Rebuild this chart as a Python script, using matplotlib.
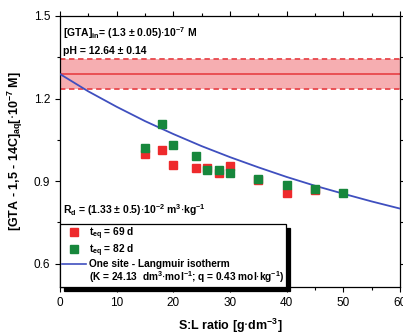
import matplotlib
matplotlib.use("Agg")
import matplotlib.pyplot as plt
from matplotlib.lines import Line2D
from matplotlib.ticker import MultipleLocator

plt.rcParams['font.family'] = ['Liberation Sans', 'DejaVu Sans']

# ---- data ----
red_x = [15, 18, 20, 24, 26, 28, 30, 35, 40, 45]
red_y = [0.997, 1.013, 0.958, 0.948, 0.947, 0.931, 0.956, 0.904, 0.856, 0.866]
green_x = [15, 18, 20, 24, 26, 28, 30, 35, 40, 45, 50]
green_y = [1.022, 1.106, 1.031, 0.992, 0.941, 0.941, 0.931, 0.909, 0.884, 0.873, 0.857]
fit_x = [0, 5, 10, 15, 20, 25, 30, 35, 40, 45, 50, 55, 60]
fit_y = [1.289, 1.226, 1.170, 1.118, 1.071, 1.027, 0.987, 0.950, 0.915, 0.883, 0.854, 0.826, 0.800]
gta_in = 1.289
gta_lo = 1.235
gta_hi = 1.342
x_ticks = [0, 10, 20, 30, 40, 50, 60]
y_ticks = [0.6, 0.9, 1.2, 1.5]

RED = '#ee2a2c'
GREEN = '#17873c'
BLUE = '#3f4fbf'

fig = plt.figure(figsize=(4.03, 3.36), dpi=100)
ax = fig.add_axes([60 / 403, 49 / 336, 340 / 403, 271 / 336])

# band of initial concentration
ax.axhspan(gta_lo, gta_hi, color='#f6aeb1', lw=0, zorder=1)
ax.axhline(gta_in, color='#e8474c', lw=1.3, zorder=2)
for yb in (gta_lo, gta_hi):
    ax.axhline(yb, color='#e8474c', lw=1.3, ls=(0, (3, 2)), zorder=2)

ax.plot(fit_x, fit_y, color=BLUE, lw=1.3, zorder=3)
ax.plot(red_x, red_y, ls='none', marker='s', ms=6.0, color=RED, mec=RED, zorder=4)
ax.plot(green_x, green_y, ls='none', marker='s', ms=6.0, color=GREEN, mec=GREEN, zorder=5)

ax.set_xlim(0, 60)
ax.set_ylim(0.515, 1.5)
ax.set_xticks(x_ticks)
ax.set_yticks(y_ticks)
ax.xaxis.set_minor_locator(MultipleLocator(5))
ax.yaxis.set_minor_locator(MultipleLocator(0.15))
ax.tick_params(which='both', top=True, right=True, direction='out', labelsize=8.5,
               width=0.8, colors='black')
ax.tick_params(which='major', length=3.5)
ax.tick_params(which='minor', length=2)
for s in ax.spines.values():
    s.set_linewidth(0.9)

ax.set_xlabel(r'S:L ratio [g$\cdot$dm$^{\mathregular{-3}}$]', fontsize=9, fontweight='bold', labelpad=6)
ax.set_ylabel(r'[GTA - 1,5 - 14C]$_{\mathregular{aq}}$[$\cdot$10$^{\mathregular{-7}}$ M]',
              fontsize=9, fontweight='bold', labelpad=6)

tkw = dict(fontsize=7.5, fontweight='bold', transform=ax.transAxes, ha='left', va='center')
ax.text(0.008, 0.937, r'[GTA]$_{\mathregular{in}}$= (1.3 ± 0.05)$\cdot$10$^{\mathregular{-7}}$ M', **tkw)
ax.text(0.008, 0.870, 'pH = 12.64 ± 0.14', **tkw)
ax.text(0.008, 0.282, r'R$_{\mathregular{d}}$ = (1.33 ± 0.5)$\cdot$10$^{\mathregular{-2}}$ m$^{\mathregular{3}}$$\cdot$kg$^{\mathregular{-1}}$', **tkw)

handles = [
    Line2D([], [], ls='none', marker='s', ms=5.5, color=RED),
    Line2D([], [], ls='none', marker='s', ms=5.5, color=GREEN),
    Line2D([], [], color=BLUE, lw=1.2),
    Line2D([], [], ls='none', marker=None, color='none'),
]
labels = [
    r't$_{\mathregular{eq}}$ = 69 d',
    r't$_{\mathregular{eq}}$ = 82 d',
    'One site - Langmuir isotherm',
    r'(K = 24.13  dm$^{\mathregular{3}}$$\cdot$mol$^{\mathregular{-1}}$; q = 0.43 mol$\cdot$kg$^{\mathregular{-1}}$)',
]
leg = ax.legend(handles, labels, loc='lower left', bbox_to_anchor=(0, 0),
                borderaxespad=0, frameon=True, fancybox=False,
                shadow={'color': 'black', 'alpha': 1, 'ox': 3, 'oy': -3},
                prop={'weight': 'bold', 'size': 7.3}, handlelength=2.4,
                handletextpad=0.3, borderpad=0.15, labelspacing=0.05)
leg.get_frame().set_edgecolor('black')
leg.get_frame().set_linewidth(0.9)
leg.set_zorder(6)

fig.savefig('out.png', dpi=100)
